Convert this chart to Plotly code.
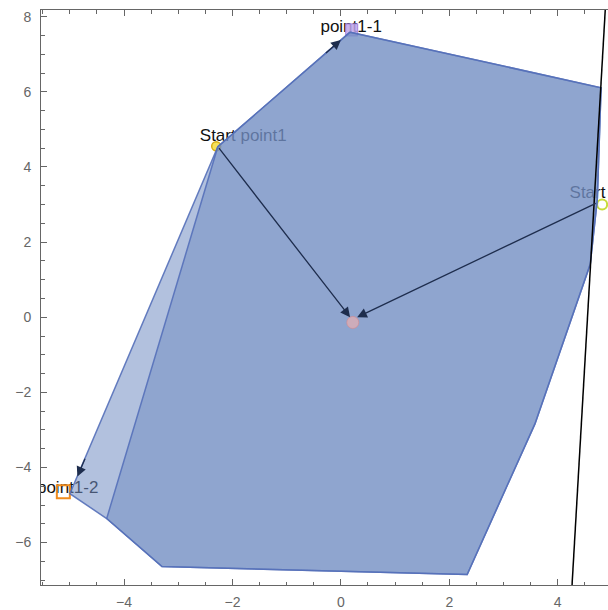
import plotly.graph_objects as go

# ---- data ----
hull_a_x = [0.17, 4.80, 4.73, 4.60, 3.58, 2.33, -3.30, -4.32, -5.00, -2.27]
hull_a_y = [7.59, 6.11, 3.13, 1.41, -2.84, -6.85, -6.64, -5.36, -4.70, 4.54]
hull_b_x = [0.17, 4.80, 4.73, 4.60, 3.58, 2.33, -3.30, -4.32, -2.27]
hull_b_y = [7.59, 6.11, 3.13, 1.41, -2.84, -6.85, -6.64, -5.36, 4.54]

point_names = ["Start point1", "Start", "point1-1", "point1-2"]
point_x = [-2.30, 4.82, 0.20, -5.12]
point_y = [4.55, 3.00, 7.65, -4.65]
center_x = [0.22]
center_y = [-0.14]

label_text = ["Start point1", "Start", "point1-1", "point1-2"]
label_x = [-1.80, 4.55, 0.19, -5.04]
label_y = [4.81, 3.30, 7.72, -4.57]

arrow_from_x = [-2.27, 4.73, -2.27, -2.27]
arrow_from_y = [4.54, 3.05, 4.54, 4.54]
arrow_to_x = [0.17, 0.30, 0.00, -4.86]
arrow_to_y = [0.00, 0.00, 7.38, -4.24]
# arrows running along a hull edge: only the head end shows dark
arrow_on_edge = [False, False, True, True]

line_x = [4.25, 4.89]
line_y = [-7.5, 8.5]

x_ticks = [-4, -2, 0, 2, 4]
y_ticks = [-6, -4, -2, 0, 2, 4, 6, 8]

# ---- figure ----
fig = go.Figure()

fig.add_trace(go.Scatter(x=label_x, y=label_y, mode="text", text=label_text,
                         textposition="middle center",
                         textfont=dict(family="Liberation Sans", size=17, color="#111"),
                         showlegend=False, hoverinfo="skip"))

marker_style = {
    "Start point1": dict(symbol="circle", size=9, color="rgba(245,225,90,1)",
                         line=dict(color="rgb(215,175,20)", width=1.5)),
    "Start": dict(symbol="circle-open", size=10, color="rgb(200,220,60)",
                  line=dict(width=2)),
    "point1-1": dict(symbol="square", size=12, color="rgba(190,165,235,0.85)",
                     line=dict(color="rgb(165,130,225)", width=1)),
    "point1-2": dict(symbol="square-open", size=13, color="rgb(240,140,30)",
                     line=dict(width=2)),
}
for name, px, py in zip(point_names, point_x, point_y):
    fig.add_trace(go.Scatter(x=[px], y=[py], mode="markers",
                             marker=marker_style[name], showlegend=False,
                             hoverinfo="skip"))

fill_col = "rgba(115,142,195,0.55)"
edge_col = "rgba(85,112,185,0.9)"
for hx, hy in [(hull_a_x, hull_a_y), (hull_b_x, hull_b_y)]:
    fig.add_trace(go.Scatter(x=hx + hx[:1], y=hy + hy[:1], mode="lines",
                             fill="toself", fillcolor=fill_col,
                             line=dict(color=edge_col, width=1.5),
                             showlegend=False, hoverinfo="skip"))

fig.add_trace(go.Scatter(x=center_x, y=center_y, mode="markers",
                         marker=dict(symbol="circle", size=12,
                                     color="rgba(238,175,175,0.65)",
                                     line=dict(color="rgba(225,130,125,0.5)", width=1)),
                         showlegend=False, hoverinfo="skip"))

fig.add_trace(go.Scatter(x=line_x, y=line_y, mode="lines",
                         line=dict(color="black", width=1.5),
                         showlegend=False, hoverinfo="skip"))

# pixel scale, used only to trim the edge arrows to their head segment
px_per_x = 567 / (4.928 + 5.532)
px_per_y = 577 / (8.18 + 7.13)
for fx, fy, tx, ty, on_edge in zip(arrow_from_x, arrow_from_y, arrow_to_x,
                                   arrow_to_y, arrow_on_edge):
    length_px = (((tx - fx) * px_per_x) ** 2 + ((ty - fy) * px_per_y) ** 2) ** 0.5
    fig.add_annotation(x=tx, y=ty, ax=fx, ay=fy, xref="x", yref="y",
                       axref="x", ayref="y", text="", showarrow=True,
                       arrowhead=2, arrowsize=1.5, arrowwidth=1.3,
                       arrowcolor="#1e2d4d",
                       startstandoff=(length_px - 22) if on_edge else 0)

axis_common = dict(
    showgrid=False, zeroline=False, showline=True, linecolor="#666",
    linewidth=1, ticks="inside", ticklen=6, tickcolor="#666", tickwidth=1,
    tickfont=dict(family="Liberation Sans", size=14, color="#666"),
    minor=dict(dtick=0.5, ticks="inside", ticklen=3.5, tickcolor="#666", tickwidth=1),
)

fig.update_xaxes(range=[-5.532, 4.928], tickvals=x_ticks, mirror="ticks",
                 ticklabelstandoff=4, **axis_common)
fig.update_yaxes(range=[-7.13, 8.18], tickvals=y_ticks, mirror=False,
                 ticklabelstandoff=6, **axis_common)

fig.update_layout(width=608, height=610, margin=dict(l=41, r=0, t=10, b=23),
                  plot_bgcolor="white", paper_bgcolor="white")

fig.write_html("out.html", config={"displayModeBar": False},
               post_script="document.body.style.margin='0';document.body.style.overflow='hidden';")
